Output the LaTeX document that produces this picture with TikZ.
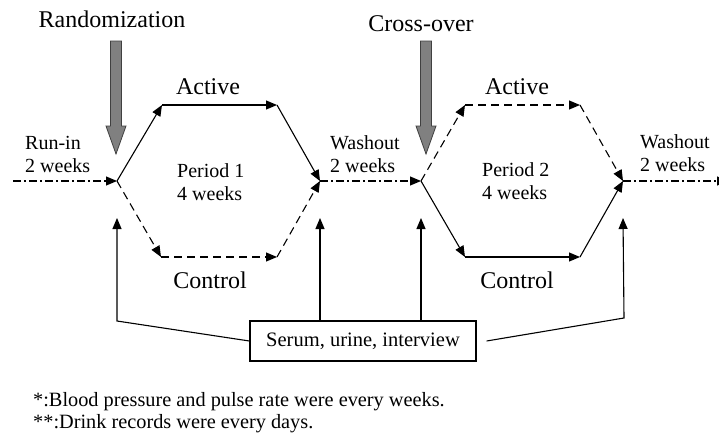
\documentclass[tikz,border=0pt]{standalone}
\usepackage{fontspec}
\setmainfont{Liberation Serif}
\usetikzlibrary{arrows.meta,positioning}

\begin{document}
\begin{tikzpicture}[
  x=1pt,y=-1pt,
  big/.style={font=\fontsize{24}{27}\selectfont,inner sep=0pt},
  small/.style={font=\fontsize{20}{23}\selectfont,inner sep=0pt,align=left},
  arr/.style={line width=1.1pt,-{Triangle[length=11pt,width=9pt]}},
  dsh/.style={arr,dash pattern=on 8pt off 5pt},
  dashdot/.style={arr,dash pattern=on 8pt off 3pt on 2pt off 3pt},
  boxed/.style={draw,line width=1.2pt,minimum width=226pt,minimum height=40pt,inner sep=0pt,font=\fontsize{20.5}{23}\selectfont},
  bigarr/.style={fill=black!50,draw=black!75,line width=0.8pt}
]
\useasboundingbox (0,0) rectangle (719,434);

% time line
\coordinate (start) at (13,181);
\coordinate (r1) at (117,181);
\coordinate (a1) at (162,105);
\coordinate (b1) at (277,105);
\coordinate (c1) at (161,257);
\coordinate (d1) at (277,257);
\coordinate (j1) at (320,181);
\coordinate (r2) at (421,181);
\coordinate (a2) at (465,105);
\coordinate (b2) at (580,105);
\coordinate (c2) at (465,257);
\coordinate (d2) at (580,257);
\coordinate (j2) at (623,181);
\coordinate (stop) at (728,181);
\coordinate (k1) at (117,321);
\coordinate (k2) at (624,318);

\node[big,anchor=base] (rand) at (112,27) {Randomization};
\node[big,anchor=base] (cross) at (421,31) {Cross-over};
\node[big,anchor=base] (act1) at (208,94) {Active};
\node[big,anchor=base] (act2) at (517,94) {Active};
\node[big,anchor=base] (ctl1) at (210,288) {Control};
\node[big,anchor=base] (ctl2) at (517,288) {Control};
\node[small,anchor=base west] (runin) at (25,172) {Run-in\\2 weeks};
\node[small,anchor=base west] (wash1) at (330,172) {Washout\\2 weeks};
\node[small,anchor=base west] (per1) at (177,200) {Period 1\\4 weeks};
\node[small,anchor=base west] (per2) at (482,199) {Period 2\\4 weeks};
\node[small,anchor=base west] (wash2) at (640,171) {Washout\\2 weeks};
\node[boxed] (box) at (363,341) {Serum, urine, interview};
\node[small,font=\fontsize{20.3}{22}\selectfont,anchor=base west] (notes) at (33,428) {*:Blood pressure and pulse rate were every weeks.\\**:Drink records were every days.};

\foreach \cx in {116,426}
  \draw[bigarr] (\cx-5.5,41) -- (\cx+5.5,41) -- (\cx+5.5,126) -- (\cx+10,126) -- (\cx,154) -- (\cx-10,126) -- (\cx-5.5,126) -- cycle;

\draw[dashdot] (start) -- (r1);
\draw[arr] (r1) -- (a1);
\draw[arr] (a1) -- (b1);
\draw[arr] (b1) -- (j1);
\draw[dsh] (r1) -- (c1);
\draw[dsh] (c1) -- (d1);
\draw[dsh] (d1) -- (j1);
\draw[dashdot] (j1) -- (r2);
\draw[dsh] (r2) -- (a2);
\draw[dsh] (a2) -- (b2);
\draw[dsh] (b2) -- (j2);
\draw[arr] (r2) -- (c2);
\draw[arr] (c2) -- (d2);
\draw[arr] (d2) -- (j2);
\draw[dashdot] (j2) -- (stop);

\draw[arr] (box.west) -- (k1) -- ([yshift=-37pt]r1);
\draw[arr] (box.north -| j1) -- ([yshift=-37pt]j1);
\draw[arr] (box.north -| r2) -- ([yshift=-37pt]r2);
\draw[arr] ([xshift=10pt]box.east) -- (k2) -- ([yshift=-37pt]j2);
\end{tikzpicture}
\end{document}
